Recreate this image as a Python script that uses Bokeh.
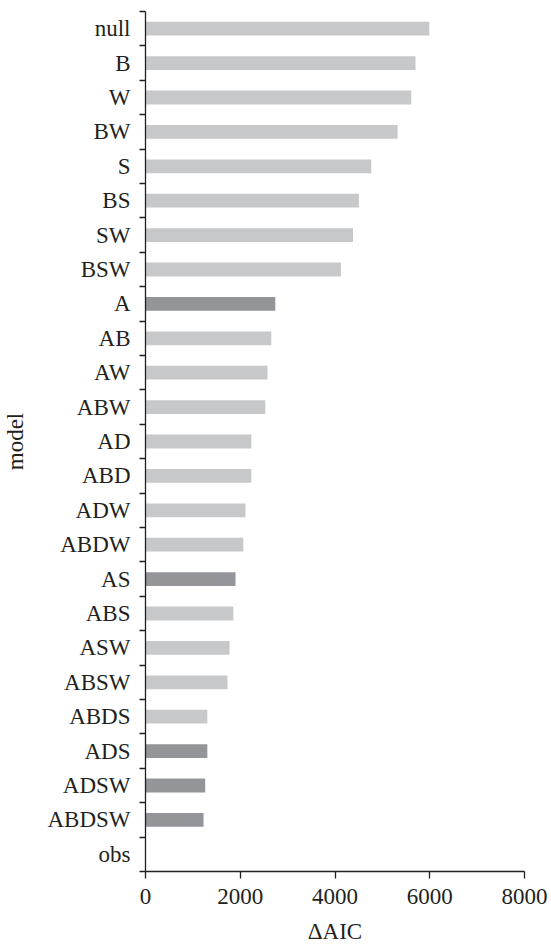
from bokeh.plotting import figure
from bokeh.models import Range1d, FixedTicker, ColumnDataSource
from bokeh.embed import file_html
from bokeh.resources import INLINE

models = ["null", "B", "W", "BW", "S", "BS", "SW", "BSW", "A", "AB", "AW", "ABW",
          "AD", "ABD", "ADW", "ABDW", "AS", "ABS", "ASW", "ABSW", "ABDS", "ADS",
          "ADSW", "ABDSW", "obs"]
delta_aic = [5990, 5700, 5610, 5320, 4765, 4505, 4380, 4125, 2740, 2655, 2575, 2530,
             2235, 2235, 2110, 2065, 1900, 1855, 1775, 1730, 1305, 1305, 1260, 1225, 0]
highlighted = ["A", "AS", "ADS", "ADSW", "ABDSW"]
x_ticks = [0, 2000, 4000, 6000, 8000]

LIGHT = "#c7c8ca"
DARK = "#939598"
INK = "#231f20"
FONT = "Liberation Serif"

n = len(models)
ypos = [n - i for i in range(n)]  # null on top
colors = [DARK if m in highlighted else LIGHT for m in models]
src = ColumnDataSource(dict(y=ypos, v=delta_aic, c=colors, m=models))

p = figure(frame_width=379, frame_height=860, output_backend="svg", toolbar_location=None,
           x_range=Range1d(0, 8000), y_range=Range1d(0.5, n + 0.5),
           min_border_left=138, min_border_top=11, min_border_right=26, min_border_bottom=0)
p.hbar(y="y", left=0, right="v", height=0.40, fill_color="c", line_color=None, source=src)

p.grid.visible = False
p.outline_line_color = None
p.background_fill_color = "white"

# x axis
xa = p.xaxis[0]
xa.ticker = FixedTicker(ticks=x_ticks, minor_ticks=[])
xa.major_label_overrides = {t: str(t) for t in x_ticks}
xa.axis_label = "ΔAIC"
xa.major_tick_in = 0
xa.major_tick_out = 7
xa.minor_tick_in = 0
xa.minor_tick_out = 0
xa.major_label_standoff = 10
xa.axis_label_standoff = 12

# y axis: labels at category centres, ticks at category boundaries
ya = p.yaxis[0]
ya.ticker = FixedTicker(ticks=ypos, minor_ticks=[i + 0.5 for i in range(n + 1)])
ya.major_label_overrides = {y: m for y, m in zip(ypos, models)}
ya.axis_label = "model"
ya.major_tick_in = 0
ya.major_tick_out = 0
ya.minor_tick_in = 0
ya.minor_tick_out = 6
ya.major_label_standoff = 9
ya.axis_label_standoff = 16

for ax in (xa, ya):
    ax.axis_line_color = INK
    ax.axis_line_width = 1.3
    ax.major_tick_line_color = INK
    ax.minor_tick_line_color = INK
    ax.major_tick_line_width = 1.3
    ax.minor_tick_line_width = 1.3
    ax.major_label_text_font = FONT
    ax.major_label_text_font_size = "23px"
    ax.major_label_text_color = INK
    ax.axis_label_text_font = FONT
    ax.axis_label_text_font_size = "23px"
    ax.axis_label_text_font_style = "normal"
    ax.axis_label_text_color = INK

open("out.html", "w").write(file_html(p, INLINE))
